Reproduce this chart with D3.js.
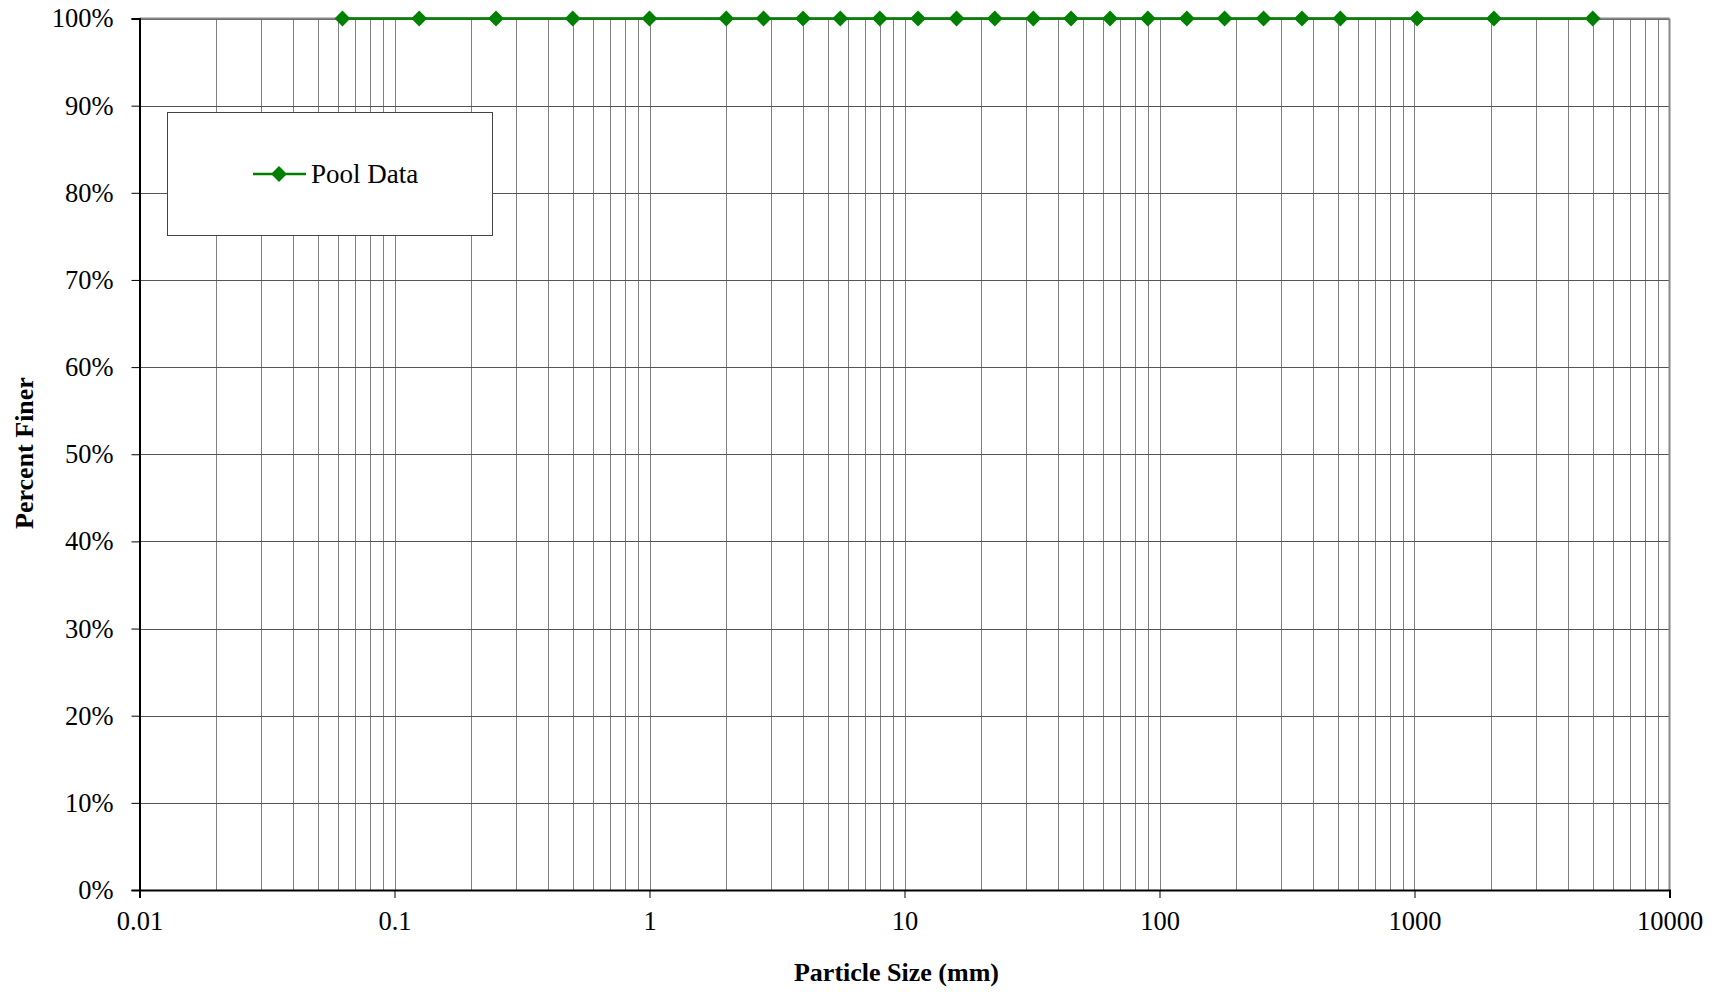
<!DOCTYPE html>
<html><head><meta charset="utf-8">
<script src="https://cdn.jsdelivr.net/npm/d3@7"></script>
<style>body{margin:0;background:#fff;} svg{display:block;}</style>
</head><body>
<svg id="c" width="1719" height="992"></svg>
<script>
const sizes = [0.0625,0.125,0.25,0.5,1,2,2.8,4,5.6,8,11.3,16,22.6,32,45,64,90,128,180,256,362,512,1024,2048,5000];
const percentFiner = [100,100,100,100,100,100,100,100,100,100,100,100,100,100,100,100,100,100,100,100,100,100,100,100,100];
const xTicks = [0.01,0.1,1,10,100,1000,10000];
const xTickLabels = ["0.01","0.1","1","10","100","1000","10000"];
const yTicks = [0,10,20,30,40,50,60,70,80,90,100];
const seriesName = "Pool Data";

const svg = d3.select("#c");
const L=139.5, R=1669.5, T=18.5, B=890;
const x = d3.scaleLog().domain([0.01,10000]).range([L,R]);
const y = d3.scaleLinear().domain([0,100]).range([B,T]);
const font = "'Liberation Serif','Times New Roman',serif";

// minor vertical gridlines
const minor = [];
for (let e=-2;e<4;e++) for (let m=1;m<10;m++) minor.push(m*Math.pow(10,e));
svg.append("g").selectAll("line").data(minor.filter(v=>v>0.01 && v<10000)).join("line")
  .attr("x1",d=>Math.round(x(d))+0.5).attr("x2",d=>Math.round(x(d))+0.5)
  .attr("y1",T).attr("y2",B).attr("stroke","#808080").attr("stroke-width",1);
// horizontal gridlines
svg.append("g").selectAll("line").data(yTicks.filter(v=>v>0)).join("line")
  .attr("x1",L).attr("x2",R).attr("y1",d=>Math.round(y(d))+0.5).attr("y2",d=>Math.round(y(d))+0.5)
  .attr("stroke","#555").attr("stroke-width",1);
// border top & right
svg.append("line").attr("x1",L).attr("x2",R).attr("y1",T).attr("y2",T).attr("stroke","#888").attr("stroke-width",2);
svg.append("line").attr("x1",R).attr("x2",R).attr("y1",T).attr("y2",B).attr("stroke","#888").attr("stroke-width",2);

// axes
const yAxis = d3.axisLeft(y).tickValues(yTicks).tickFormat(d=>d+"%").tickSizeOuter(0).tickSize(8).tickPadding(18);
const gy = svg.append("g").attr("transform",`translate(${L},0)`).call(yAxis);
const xAxis = d3.axisBottom(x).tickValues(xTicks).tickFormat((d,i)=>xTickLabels[i]).tickSizeOuter(0).tickSize(8).tickPadding(13);
const gx = svg.append("g").attr("transform",`translate(0,${B})`).call(xAxis);
[gx,gy].forEach(g=>{
  g.select(".domain").attr("stroke","#000").attr("stroke-width",2);
  g.selectAll(".tick line").attr("stroke","#000").attr("stroke-width",1);
  g.selectAll("text").attr("font-family",font).attr("font-size",26.5).attr("fill","#000");
});

// series
const pts = sizes.map((s,i)=>[s,percentFiner[i]]);
svg.append("path").datum(pts).attr("fill","none").attr("stroke","#008000").attr("stroke-width",2.5)
  .attr("d",d3.line().x(d=>x(d[0])).y(d=>y(d[1])));
const diamond = d3.symbol().type(d3.symbolDiamond2).size(160);
svg.append("g").selectAll("path").data(pts).join("path")
  .attr("transform",d=>`translate(${x(d[0])},${y(d[1])})`).attr("d",diamond).attr("fill","#008000");

// legend
svg.append("rect").attr("x",167.5).attr("y",112.5).attr("width",325).attr("height",123)
  .attr("fill","#fff").attr("stroke","#444").attr("stroke-width",1);
svg.append("line").attr("x1",253).attr("x2",306).attr("y1",174).attr("y2",174).attr("stroke","#008000").attr("stroke-width",2.5);
svg.append("path").attr("transform","translate(279,174)").attr("d",diamond).attr("fill","#008000");
svg.append("text").attr("x",311).attr("y",183).attr("font-family",font).attr("font-size",27).text(seriesName);

// titles
svg.append("text").attr("x",896.5).attr("y",981).attr("text-anchor","middle")
  .attr("font-family",font).attr("font-size",26).attr("font-weight","bold").text("Particle Size (mm)");
svg.append("text").attr("transform",`translate(33,453) rotate(-90)`).attr("text-anchor","middle")
  .attr("font-family",font).attr("font-size",26).attr("font-weight","bold").text("Percent Finer");
</script>
</body></html>
